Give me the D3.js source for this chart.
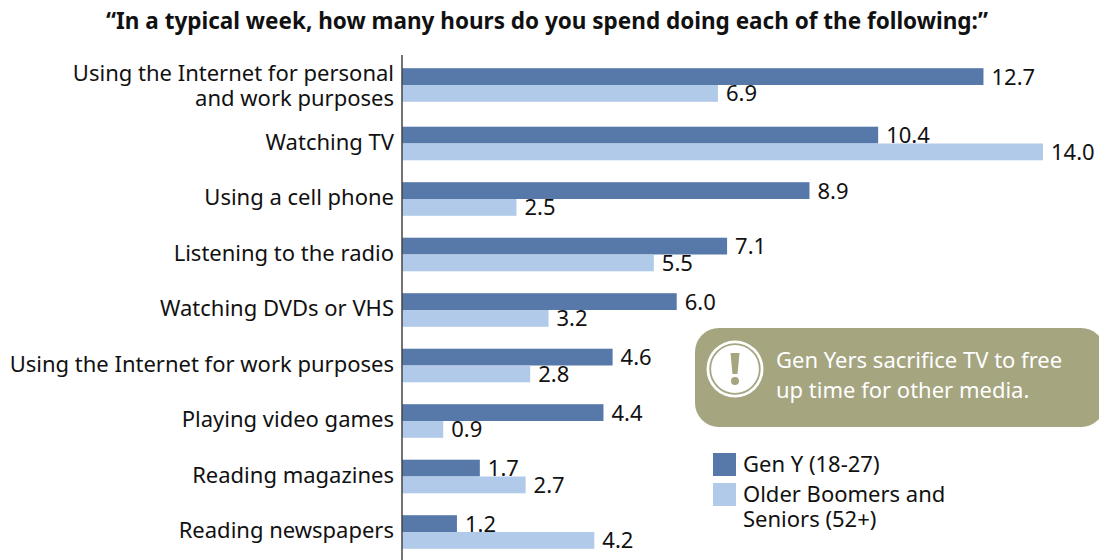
<!DOCTYPE html>
<html>
<head>
<meta charset="utf-8">
<style>
  html, body { margin: 0; padding: 0; background: #fff; }
  svg { display: block; }
  text { font-family: "Noto Sans", "Open Sans", sans-serif; }
</style>
<script src="https://d3js.org/d3.v7.min.js"></script>
</head>
<body>
<svg id="chart" width="1099" height="560"></svg>
<script>
const titleText = "“In a typical week, how many hours do you spend doing each of the following:”";
const categories = [
  ["Using the Internet for personal", "and work purposes"],
  ["Watching TV"],
  ["Using a cell phone"],
  ["Listening to the radio"],
  ["Watching DVDs or VHS"],
  ["Using the Internet for work purposes"],
  ["Playing video games"],
  ["Reading magazines"],
  ["Reading newspapers"]
];
const genY = [12.7, 10.4, 8.9, 7.1, 6.0, 4.6, 4.4, 1.7, 1.2];
const olderBoomers = [6.9, 14.0, 2.5, 5.5, 3.2, 2.8, 0.9, 2.7, 4.2];
const seriesNames = [["Gen Y (18-27)"], ["Older Boomers and", "Seniors (52+)"]];
const seriesColors = ["#5779aa", "#b1caea"];
const calloutLines = ["Gen Yers sacrifice TV to free", "up time for other media."];

const svg = d3.select("#chart");
const labelSize = 22;
const panelColor = "#a5a580";

const x = d3.scaleLinear().domain([0, 14]).range([402, 1043]);
const y = d3.scaleBand().domain(d3.range(categories.length)).range([60.25, 559.75]);
const barH = 16.8;
// Rows are evenly banded; the first, two-line row sits slightly higher.
const rowMid = i => y(i) + y.bandwidth() / 2 - (i === 0 ? 3 : 0);

svg.append("text")
  .attr("x", 547).attr("y", 29)
  .attr("text-anchor", "middle")
  .attr("font-size", 22.5).attr("font-weight", 700).attr("fill", "#111")
  .text(titleText);

const rows = svg.append("g").selectAll("g").data(categories).join("g");

[genY, olderBoomers].forEach((values, s) => {
  rows.append("rect")
    .attr("x", x(0))
    .attr("y", (d, i) => rowMid(i) + (s === 0 ? -barH : 0))
    .attr("width", (d, i) => x(values[i]) - x(0))
    .attr("height", barH)
    .attr("fill", seriesColors[s]);
  rows.append("text")
    .attr("x", (d, i) => x(values[i]) + 8)
    .attr("y", (d, i) => rowMid(i) + (s === 0 ? -barH / 2 : barH / 2) + 8)
    .attr("font-size", labelSize).attr("fill", "#111")
    .text((d, i) => values[i].toFixed(1));
});

rows.each(function (lines, i) {
  const g = d3.select(this);
  const lh = 25.5;
  const baseline = lines.length > 1 ? rowMid(i) + 8.5 : rowMid(i) + 6;
  lines.forEach((line, k) => {
    g.append("text")
      .attr("x", 394)
      .attr("y", baseline + (k - (lines.length - 1) / 2) * lh)
      .attr("text-anchor", "end")
      .attr("font-size", labelSize).attr("fill", "#111")
      .text(line);
  });
});

svg.append("line")
  .attr("x1", x(0)).attr("x2", x(0)).attr("y1", 55).attr("y2", 560)
  .attr("stroke", "#444").attr("stroke-width", 1.5);

// Callout panel with a warning badge
const callout = svg.append("g");
callout.append("rect")
  .attr("x", 695).attr("y", 328).attr("width", 410).attr("height", 99)
  .attr("rx", 24).attr("fill", panelColor);
callout.append("circle")
  .attr("cx", 735).attr("cy", 369).attr("r", 28.5)
  .attr("fill", "#fff");
callout.append("circle")
  .attr("cx", 735).attr("cy", 369).attr("r", 24.8)
  .attr("fill", "#fff").attr("stroke", panelColor).attr("stroke-width", 1.8);
callout.append("path")
  .attr("d", "M730.5 353 L739.5 353 L737.5 374 L732.5 374 Z")
  .attr("fill", panelColor);
callout.append("circle")
  .attr("cx", 735).attr("cy", 381).attr("r", 4).attr("fill", panelColor);
calloutLines.forEach((line, k) => {
  callout.append("text")
    .attr("x", 776).attr("y", 368 + k * 30)
    .attr("font-size", labelSize).attr("fill", "#fff")
    .text(line);
});

// Legend
const legend = svg.append("g");
const legendRows = [453, 483];
const legendBaselines = [[472], [502, 527]];
seriesNames.forEach((lines, s) => {
  legend.append("rect")
    .attr("x", 713).attr("y", legendRows[s])
    .attr("width", 23).attr("height", 23)
    .attr("fill", seriesColors[s]);
  lines.forEach((line, k) => {
    legend.append("text")
      .attr("x", 743).attr("y", legendBaselines[s][k])
      .attr("font-size", labelSize).attr("fill", "#111")
      .text(line);
  });
});
</script>
</body>
</html>
